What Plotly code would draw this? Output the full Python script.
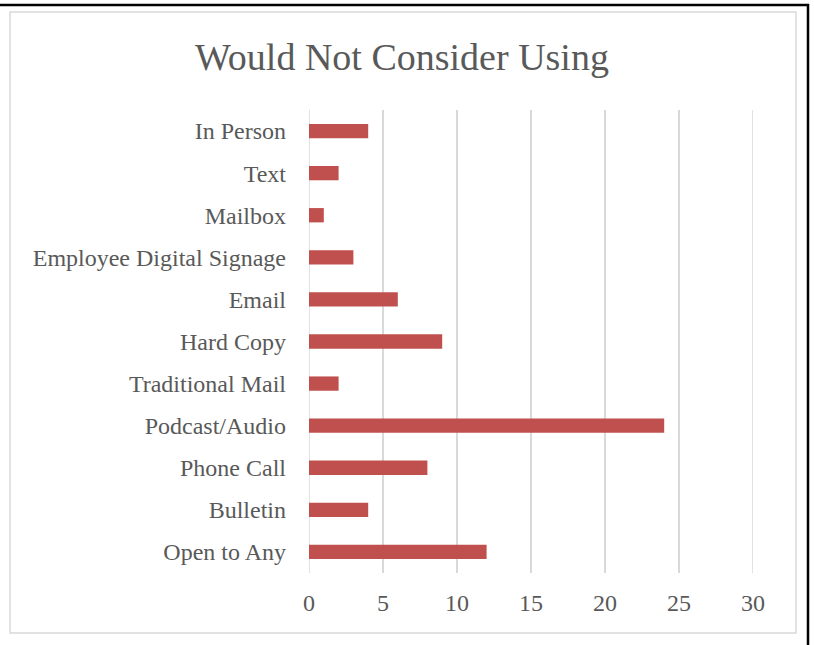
import plotly.graph_objects as go

categories = ["In Person", "Text", "Mailbox", "Employee Digital Signage", "Email",
              "Hard Copy", "Traditional Mail", "Podcast/Audio", "Phone Call",
              "Bulletin", "Open to Any"]
values = [4, 2, 1, 3, 6, 9, 2, 24, 8, 4, 12]
x_ticks = [0, 5, 10, 15, 20, 25, 30]

W, H = 814, 645
L, R, T, B = 309, 753, 110, 573

def px(x):
    return (x - L) / (R - L)

def py(y):
    return (B - y) / (B - T)

FONT = "Liberation Serif"
TXT = "#595959"
GRID = "#D9D9D9"

fig = go.Figure(go.Bar(
    x=values[::-1], y=categories[::-1], orientation="h",
    marker=dict(color="#C0504D", line=dict(width=0)),
    width=0.34,
))

shapes = [
    # outer gray frame
    dict(type="rect", xref="paper", yref="paper",
         x0=px(10), x1=px(796), y0=py(633), y1=py(12),
         line=dict(color=GRID, width=1.5), layer="below"),
    # black top line
    dict(type="line", xref="paper", yref="paper",
         x0=px(0), x1=px(809), y0=py(5), y1=py(5),
         line=dict(color="black", width=2.5)),
    # black right line
    dict(type="line", xref="paper", yref="paper",
         x0=px(808), x1=px(808), y0=py(4), y1=py(645),
         line=dict(color="black", width=2.5)),
]
# edge gridlines (plotly skips gridlines at the range ends)
for v in (x_ticks[0], x_ticks[-1]):
    shapes.append(dict(type="line", xref="x", yref="paper", x0=v, x1=v, y0=0, y1=1,
                       line=dict(color=GRID, width=1.5), layer="below"))

fig.update_layout(
    width=W, height=H,
    margin=dict(l=L, r=W - R, t=T, b=H - B, pad=0),
    paper_bgcolor="white", plot_bgcolor="white",
    showlegend=False,
    title=dict(text="Would Not Consider Using", x=402 / W, xref="container",
               xanchor="center", y=1 - 57 / H, yref="container", yanchor="middle",
               font=dict(family=FONT, size=38, color=TXT)),
    xaxis=dict(range=[0, 30], tickvals=x_ticks, showgrid=True,
               gridcolor=GRID, gridwidth=1.5, zeroline=False,
               showline=False, ticks="", ticklabelstandoff=13,
               tickfont=dict(family=FONT, size=24, color=TXT)),
    yaxis=dict(range=[-0.5, 10.5], showgrid=False, zeroline=False,
               showline=False, ticks="", ticklabelstandoff=22,
               tickfont=dict(family=FONT, size=24, color=TXT)),
    shapes=shapes,
)

fig.write_html("out.html", config={"displayModeBar": False},
               post_script="document.body.style.margin='0';document.body.style.overflow='hidden';")
